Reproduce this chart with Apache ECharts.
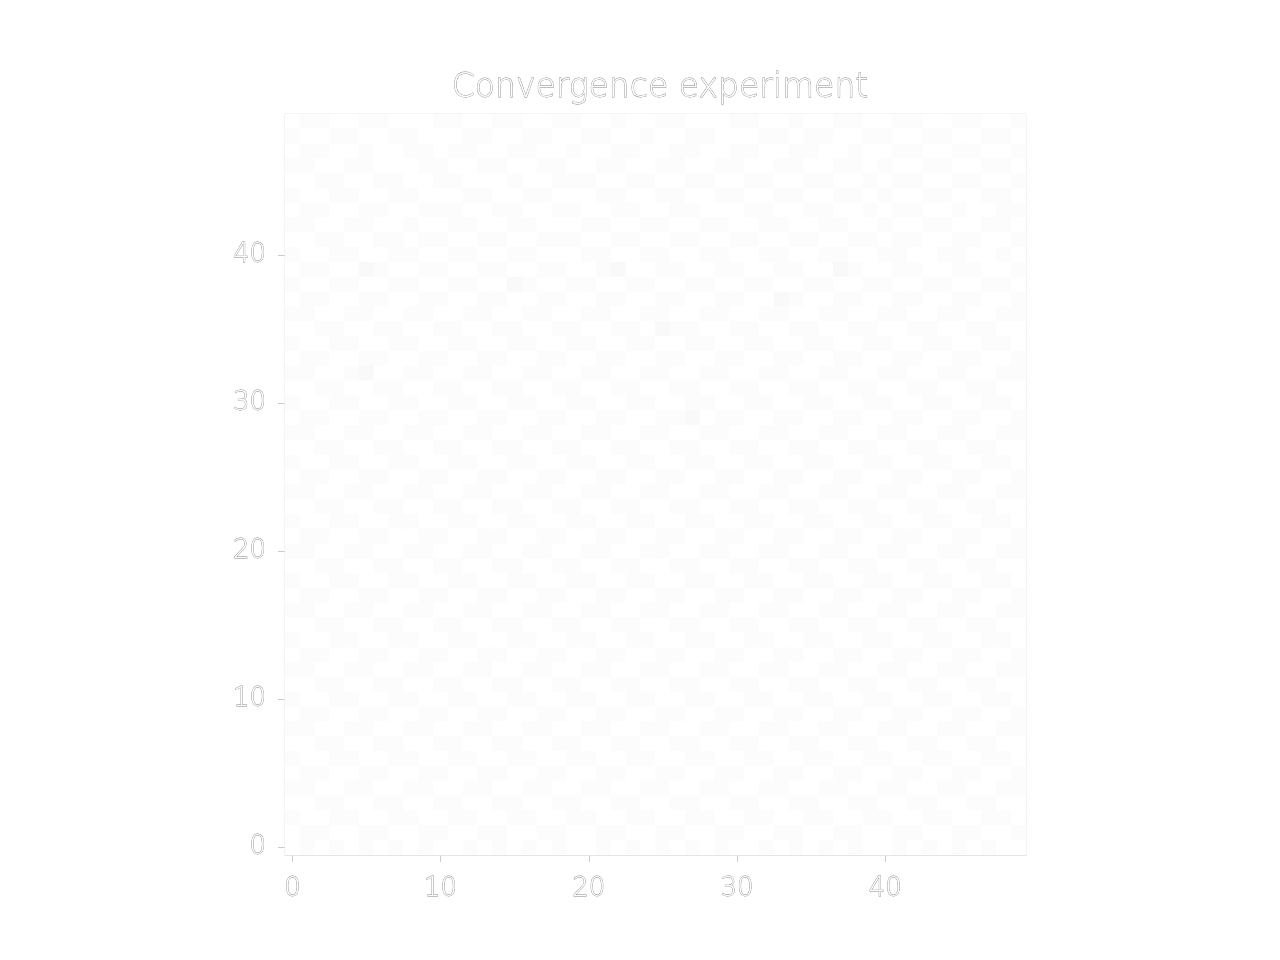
<!DOCTYPE html>
<html>
<head>
<meta charset="utf-8">
<script src="https://cdn.jsdelivr.net/npm/echarts@6/dist/echarts.min.js"></script>
<style>html,body{margin:0;padding:0;background:#fff;}#c{width:1280px;height:960px;}</style>
</head>
<body>
<div id="c"></div>
<script>
const titleText = 'Convergence experiment';
const xCategories = Array.from({length: 50}, (_, i) => String(i));
const yCategories = Array.from({length: 50}, (_, i) => String(i));
// rows from top (y = 49) to bottom (y = 0), estimated cell levels
const gridRows = [
"0110011000 1100110011 0010011000 1100100110 0110011001",
"1001100110 0011001100 1100100110 0011011001 1001100110",
"0110010011 0110011001 0011001100 1100110010 0110011001",
"1100110001 1001100110 0110011001 1001100110 1001100110",
"0011001100 1100010011 1001100110 0110011001 0110011001",
"1001100110 0011001100 0110011001 1001100110 1001100110",
"0110011001 1100110011 0011001100 0110011001 0110010011",
"1100110010 0110011000 1100110011 0011001100 1001100110",
"0011001101 1001100111 0011001100 1100110011 0110011001",
"1001100110 0110011000 1100110011 0011001100 1100110010",
"0110021001 1001100110 0120011001 1001100210 0110011001",
"1001100110 0110021001 1001100110 0110011001 1001100110",
"0110011001 1001100110 0110011001 1002100110 0110011001",
"1100110011 0011001100 1100110011 0011001100 1100110011",
"0011001100 1100110011 0011021100 1100110011 0011001100",
"1001100110 0110011001 1001100110 0110011001 1001100110",
"0110011001 1001100110 0110011001 1001100110 0110011001",
"1100120011 0011001100 1100110011 0011001100 1100110011",
"0011001100 1100110011 0011001100 1100110011 0011001100",
"1001100110 0110011001 1001100110 0110011001 1001100110",
"0110011001 1001100110 0110011201 1001100110 0110011001",
"1100110011 0011001100 1100110011 0011001100 1100110011",
"0011001100 1100110011 0011001100 1100110011 0011001100",
"1001100110 0110011001 1001100110 0110011001 1001100110",
"0110011001 1001100110 0110011001 1001100110 0110011001",
"1100110011 0011001100 1100110011 0011001100 1100110011",
"0011001100 1100110011 0011001100 1100110011 0011001100",
"1001100110 0110011001 1001100110 0110011001 1001100110",
"0110011001 1001100110 0110011001 1001100110 0110011001",
"1100110011 0011001100 1100110011 0011001100 1100110011",
"0011001100 1100110011 0011001100 1100110011 0011001100",
"1001100110 0110011001 1001100110 0110011001 1001100110",
"0110011001 1001100110 0110011001 1001100110 0110011001",
"1100110011 0011001100 1100110011 0011001100 1100110011",
"0011001100 1100110011 0011001100 1100110011 0011001100",
"1001100110 0110011001 1001100110 0110011001 1001100110",
"0110011001 1001100110 0110011001 1001100110 0110011001",
"1100110011 0011001100 1100110011 0011001100 1100110011",
"0011001100 1100110011 0011001100 1100110011 0011001100",
"1001100110 0110011001 1001100110 0110011001 1001100110",
"0110011001 1001100110 0110011001 1001100110 0110011001",
"1100110011 0011001100 1100110011 0011001100 1100110011",
"0011001100 1100110011 0011001100 1100110011 0011001100",
"1001100110 0110011001 1001100110 0110011001 1001100110",
"0110011001 1001100110 0110011001 1001100110 0110011001",
"1100110011 0011001100 1100110011 0011001100 1100110011",
"0011001100 1100110011 0011001100 1100110011 0011001100",
"1001100110 0110011001 1001100110 0110011001 1001100110",
"0110011001 1001100110 0110011001 1001100110 0110011001",
"0101010101 0010101010 0101010101 0010101010 0101010100"
];
const levelColors = ['#ffffff', '#fcfcfc', '#f9f9f9'];

const data = [];
gridRows.forEach((row, r) => {
  const s = row.replace(/\s/g, '');
  const y = 49 - r;
  for (let x = 0; x < 50; x++) {
    const v = Number(s.charAt(x) || '0');
    data.push([x, y, v]);
  }
});

const outlineText = {
  color: '#ffffff',
  textBorderColor: '#888888',
  textBorderWidth: 0.8,
  fontFamily: 'DejaVu Sans',
  fontWeight: 200
};

const chart = echarts.init(document.getElementById('c'));
chart.setOption({
  backgroundColor: '#ffffff',
  animation: false,
  title: {
    text: titleText,
    left: 655,
    textAlign: 'center',
    top: 67,
    textStyle: Object.assign({fontSize: 33}, outlineText)
  },
  grid: {
    left: 285, top: 114, width: 741, height: 741,
    show: true, borderColor: '#e2e2e2', borderWidth: 1, backgroundColor: 'transparent'
  },
  xAxis: {
    type: 'category',
    data: xCategories,
    axisLine: {show: true, lineStyle: {color: '#dddddd', width: 1}},
    axisTick: {show: true, alignWithLabel: true, interval: 9, length: 7, lineStyle: {color: '#cccccc'}},
    axisLabel: Object.assign({interval: 9, fontSize: 26, margin: 21}, outlineText),
    splitLine: {show: false}
  },
  yAxis: {
    type: 'category',
    data: yCategories,
    axisLine: {show: true, lineStyle: {color: '#dddddd', width: 1}},
    axisTick: {show: true, alignWithLabel: true, interval: 9, length: 7, lineStyle: {color: '#cccccc'}},
    axisLabel: Object.assign({interval: 9, fontSize: 26, margin: 19}, outlineText),
    splitLine: {show: false}
  },
  visualMap: {
    show: false,
    type: 'piecewise',
    dimension: 2,
    pieces: levelColors.map((c, i) => ({value: i, color: c}))
  },
  series: [{
    type: 'heatmap',
    data: data,
    itemStyle: {borderWidth: 0}
  }]
});
</script>
</body>
</html>
